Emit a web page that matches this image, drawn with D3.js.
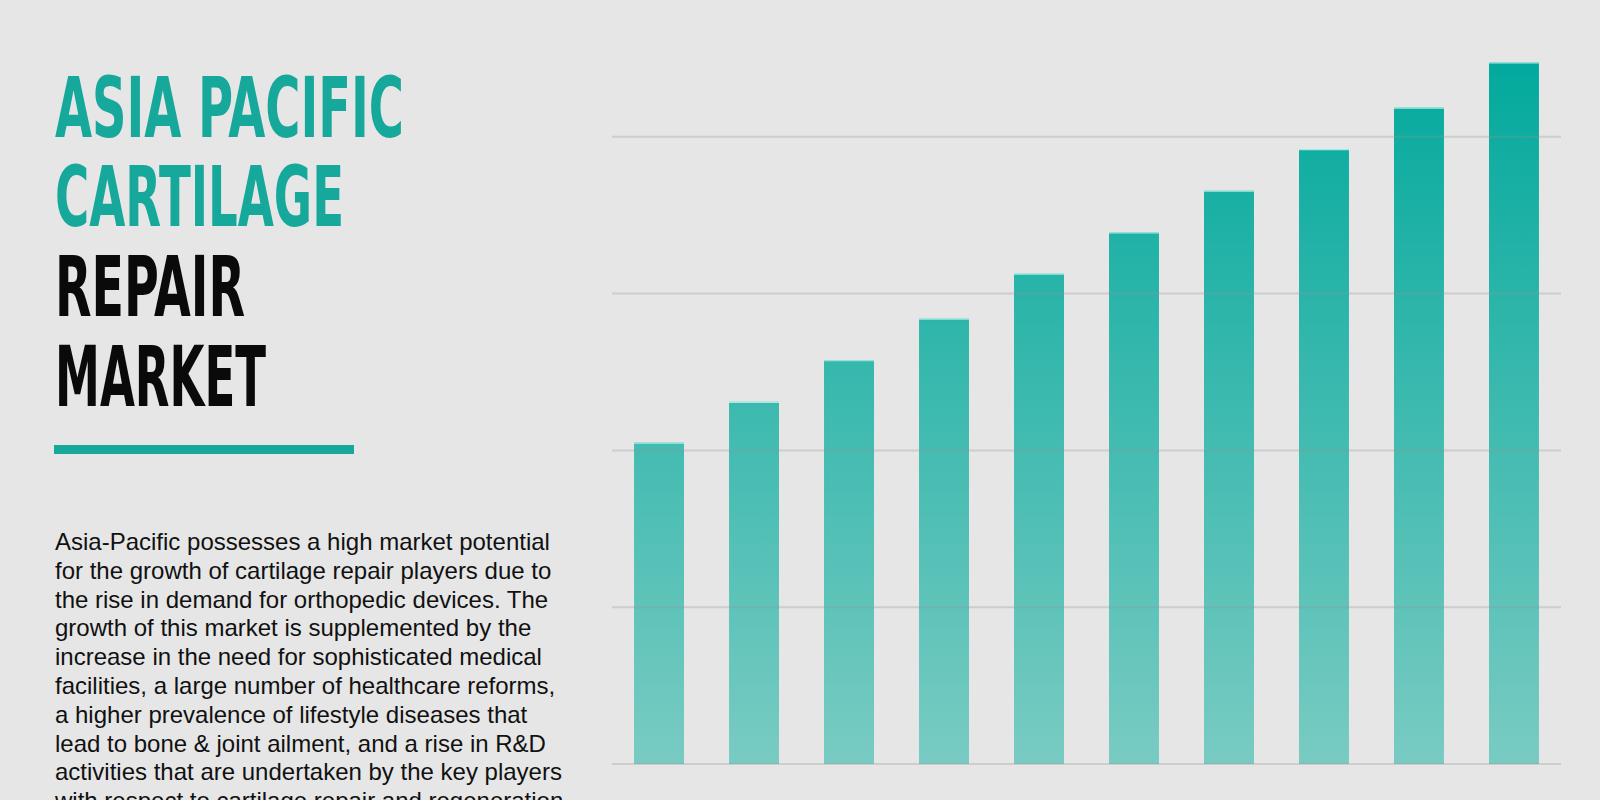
<!DOCTYPE html>
<html>
<head>
<meta charset="utf-8">
<script src="https://cdn.jsdelivr.net/npm/d3@7"></script>
<style>
  html, body { margin: 0; padding: 0; background: #e6e6e6; overflow: hidden; }
  svg { display: block; }
</style>
</head>
<body>
<script>
// ---- data ----
const categories = ["2019", "2020", "2021", "2022", "2023", "2024", "2025", "2026", "2027", "2028"];
const values = [2.05, 2.31, 2.575, 2.84, 3.127, 3.391, 3.656, 3.922, 4.186, 4.475];
const gridTicks = [0, 1, 2, 3, 4];
const titleTeal = ["ASIA PACIFIC", "CARTILAGE"];
const titleBlack = ["REPAIR", "MARKET"];
const bodyLines = [
  "Asia-Pacific possesses a high market potential",
  "for the growth of cartilage repair players due to",
  "the rise in demand for orthopedic devices. The",
  "growth of this market is supplemented by the",
  "increase in the need for sophisticated medical",
  "facilities, a large number of healthcare reforms,",
  "a higher prevalence of lifestyle diseases that",
  "lead to bone & joint ailment, and a rise in R&D",
  "activities that are undertaken by the key players",
  "with respect to cartilage repair and regeneration"
];

const W = 1600, H = 800;
const svg = d3.select("body").append("svg").attr("width", W).attr("height", H);
svg.append("rect").attr("width", W).attr("height", H).attr("fill", "#e6e6e6");

// ---- title ----
const titleWidths = [349, 289, 190, 211];
const titleLines = titleTeal.map(t => ({t, c: "#17a89c"})).concat(titleBlack.map(t => ({t, c: "#0a0a0a"})));
svg.append("g").selectAll("text").data(titleLines).join("text")
  .attr("x", 55)
  .attr("y", (d, i) => 136.5 + i * 89.8)
  .attr("fill", d => d.c)
  .attr("font-family", "'Liberation Sans Narrow', 'DejaVu Sans Condensed', 'Liberation Sans', sans-serif")
  .attr("font-weight", "bold")
  .attr("font-size", 84)
  .attr("textLength", (d, i) => titleWidths[i])
  .attr("lengthAdjust", "spacingAndGlyphs")
  .text(d => d.t);

svg.append("rect").attr("x", 54).attr("y", 445).attr("width", 300).attr("height", 9).attr("fill", "#17a89c");

// ---- paragraph ----
svg.append("g").selectAll("text").data(bodyLines).join("text")
  .attr("x", 55)
  .attr("y", (d, i) => 550 + i * 28.8)
  .attr("fill", "#111")
  .attr("font-family", "'Liberation Sans', Arial, sans-serif")
  .attr("font-size", 24)
  .text(d => d);

// ---- chart ----
const x = d3.scaleBand().domain(categories).range([612, 1561]).paddingInner(0.474).paddingOuter(0.232);
const y = d3.scaleLinear().domain([0, 4]).range([764, 136.8]);

const defs = svg.append("defs");
const grad = defs.append("linearGradient").attr("id", "barGrad")
  .attr("gradientUnits", "userSpaceOnUse")
  .attr("x1", 0).attr("x2", 0).attr("y1", y(d3.max(values))).attr("y2", y(0));
grad.append("stop").attr("offset", "0%").attr("stop-color", "#03a99d");
grad.append("stop").attr("offset", "100%").attr("stop-color", "#79cbc2");

const data = categories.map((c, i) => ({c, v: values[i]}));
svg.append("g").selectAll("rect").data(data).join("rect")
  .attr("x", d => x(d.c))
  .attr("y", d => y(d.v))
  .attr("width", x.bandwidth())
  .attr("height", d => y(0) - y(d.v))
  .attr("fill", "url(#barGrad)");

svg.append("g").selectAll("line").data(data).join("line")
  .attr("x1", d => x(d.c)).attr("x2", d => x(d.c) + x.bandwidth())
  .attr("y1", d => y(d.v) + 0.5).attr("y2", d => y(d.v) + 0.5)
  .attr("stroke", "#a6ebe4").attr("stroke-width", 1.2);

svg.append("g").selectAll("line").data(gridTicks).join("line")
  .attr("x1", 612).attr("x2", 1561)
  .attr("y1", d => y(d)).attr("y2", d => y(d))
  .attr("stroke", "rgb(150,150,150)").attr("stroke-opacity", 0.3).attr("stroke-width", 2);
</script>
</body>
</html>
